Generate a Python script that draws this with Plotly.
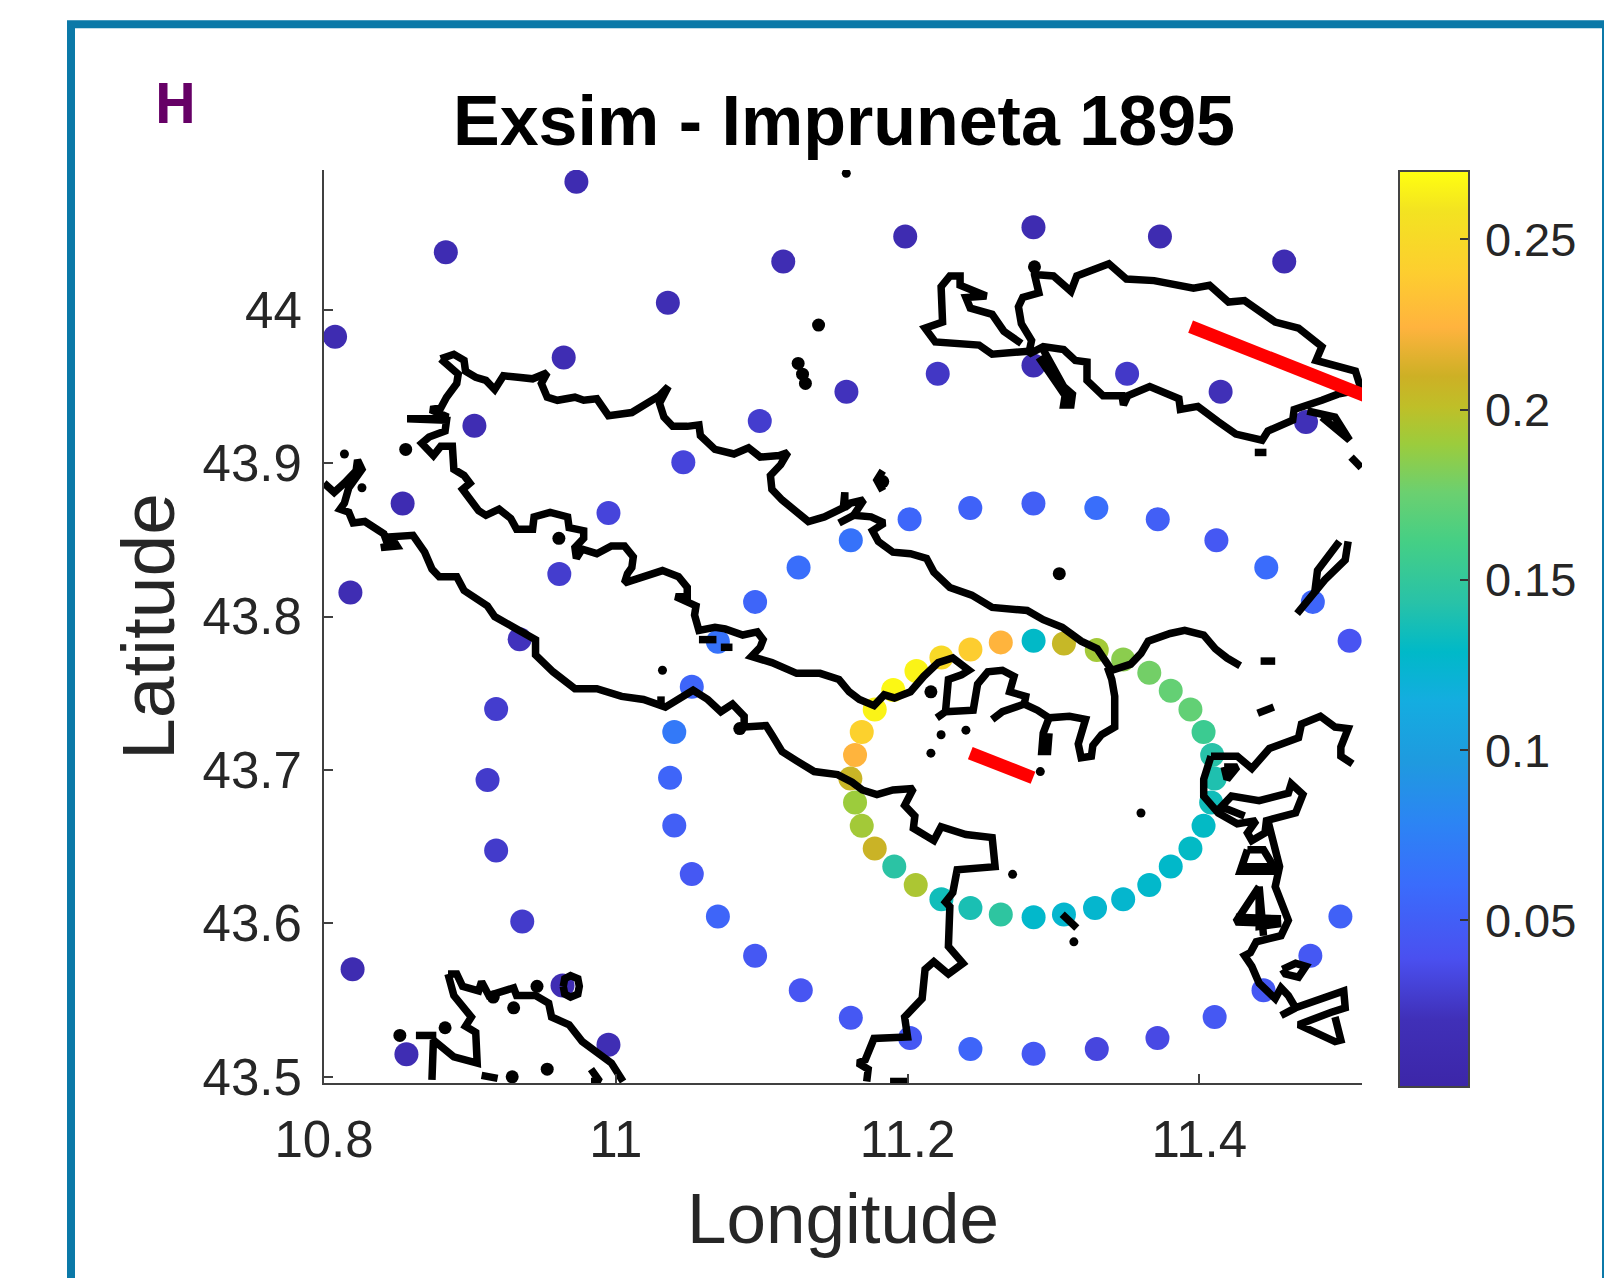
import plotly.graph_objects as go

TITLE = "Exsim - Impruneta 1895"
PANEL = "H"
X_TICKS = [10.8, 11, 11.2, 11.4]
X_LABELS = ["10.8", "11", "11.2", "11.4"]
Y_TICKS = [43.5, 43.6, 43.7, 43.8, 43.9, 44]
Y_LABELS = ["43.5", "43.6", "43.7", "43.8", "43.9", "44"]
CB_TICKS = [0.05, 0.1, 0.15, 0.2, 0.25]
CB_LABELS = ["0.05", "0.1", "0.15", "0.2", "0.25"]

# stations on the inner ring
ring_lon = [11.2864,11.2639,11.2431,11.2232,11.2061,11.1902,11.1775,11.1686,11.1640,11.1608,11.1640,11.1686,11.1775,11.1909,11.2056,11.2232,11.2431,11.2639,11.2864,11.3072,11.3285,11.3478,11.3657,11.3804,11.3939,11.4029,11.4081,11.4105,11.4088,11.4029,11.3939,11.3804,11.3657,11.3478,11.3297,11.3072]
ring_lat = [43.7842,43.7832,43.7786,43.7734,43.7645,43.7521,43.7395,43.7248,43.7098,43.6944,43.6788,43.6636,43.6488,43.6371,43.6250,43.6158,43.6100,43.6059,43.6041,43.6059,43.6100,43.6158,43.6250,43.6371,43.6488,43.6636,43.6788,43.6944,43.7098,43.7248,43.7395,43.7517,43.7634,43.7721,43.7782,43.7825]
ring_val = [0.129,0.225,0.240,0.250,0.265,0.267,0.265,0.243,0.225,0.207,0.190,0.192,0.208,0.145,0.195,0.135,0.138,0.147,0.127,0.125,0.125,0.125,0.127,0.128,0.130,0.130,0.135,0.140,0.143,0.155,0.172,0.173,0.178,0.185,0.192,0.205]

# stations on the outer rings
outer_lon = [10.973,10.8835,11.1148,11.0357,10.8076,10.9643,11.1581,10.9031,11.0987,11.0463,10.8539,10.9950,11.1611,11.1253,11.0955,10.9613,10.8181,
             11.1984,11.2863,11.3730,11.4582,11.2207,11.2863,11.3505,11.4146,11.4731,11.2014,11.2430,11.2863,11.3294,11.3715,11.4117,11.4459,11.4778,
             10.9341,10.9180,10.9121,10.9180,10.9359,10.8196,10.9635,10.8565,10.9950,11.0700,11.0521,11.0401,11.0372,11.0401,11.0521,11.0700,11.0955,11.1268,11.1611,
             11.5030,11.4967,11.4761,11.4440,11.4105,11.3713,11.3297,11.2864,11.2431,11.2017]
outer_lat = [44.0835,44.0375,44.0314,44.0045,43.9824,43.9689,43.9466,43.9244,43.9275,43.9006,43.8737,43.8676,43.8498,43.8320,43.8096,43.8277,43.8157,
             44.0477,44.0538,44.0477,44.0314,43.9583,43.9637,43.9583,43.9466,43.9268,43.8635,43.8708,43.8737,43.8708,43.8635,43.8498,43.8320,43.8096,
             43.7853,43.7398,43.6935,43.6475,43.6013,43.5701,43.5596,43.5147,43.5210,43.7836,43.7543,43.7248,43.6950,43.6638,43.6323,43.6046,43.5789,43.5564,43.5386,
             43.7842,43.6046,43.5789,43.5564,43.5390,43.5254,43.5182,43.5151,43.5182,43.5254]
outer_val = [0.012,0.013,0.014,0.016,0.012,0.014,0.022,0.014,0.028,0.032,0.013,0.032,0.065,0.062,0.055,0.028,0.015,
             0.012,0.012,0.012,0.013,0.025,0.016,0.026,0.020,0.020,0.056,0.053,0.050,0.062,0.050,0.045,0.060,0.055,
             0.022,0.028,0.027,0.027,0.027,0.012,0.014,0.015,0.016,0.065,0.055,0.070,0.055,0.050,0.045,0.055,0.045,0.043,0.045,
             0.042,0.052,0.045,0.045,0.045,0.035,0.033,0.045,0.055,0.045]

# coastline: (lon, lat) vertices per polyline
coast_north = [(10.880,43.968),(10.889,43.971),(10.896,43.967),(10.897,43.960),(10.904,43.956),(10.911,43.954),(10.917,43.948),(10.923,43.957),(10.933,43.956),(10.943,43.955),(10.953,43.959),(10.949,43.952),(10.953,43.943),(10.960,43.941),(10.972,43.943),(10.978,43.941),(10.987,43.942),(10.995,43.931),(11.011,43.933),(11.022,43.939),(11.030,43.944),(11.036,43.950),(11.030,43.939),(11.033,43.930),(11.039,43.924),(11.049,43.924),(11.057,43.925),(11.058,43.918),(11.068,43.909),(11.081,43.906),(11.091,43.910),(11.099,43.904),(11.112,43.905),(11.118,43.907),(11.113,43.899),(11.106,43.892),(11.107,43.883),(11.114,43.876),(11.123,43.869),(11.132,43.862),(11.143,43.865),(11.156,43.871),(11.157,43.881),(11.157,43.871),(11.161,43.874),(11.170,43.876),(11.163,43.866),(11.175,43.865),(11.184,43.861),(11.176,43.856),(11.180,43.849),(11.190,43.842),(11.202,43.841),(11.213,43.838),(11.218,43.829),(11.229,43.819),(11.244,43.814),(11.258,43.806),(11.282,43.804),(11.293,43.798),(11.306,43.793),(11.319,43.784),(11.330,43.779),(11.337,43.769),(11.340,43.765),(11.353,43.769),(11.360,43.776),(11.365,43.784),(11.380,43.789),(11.390,43.791),(11.403,43.788),(11.411,43.779),(11.419,43.773),(11.428,43.768)]
coast_bay = [(11.337,43.767),(11.340,43.759),(11.342,43.748),(11.342,43.728),(11.333,43.723),(11.327,43.716),(11.326,43.709),(11.319,43.708),(11.317,43.717),(11.322,43.733),(11.311,43.735),(11.297,43.734),(11.289,43.739),(11.280,43.743),(11.265,43.738),(11.258,43.733)]
coast_bay_spur = [(11.297,43.734),(11.293,43.724),(11.292,43.712),(11.296,43.712),(11.297,43.724)]
coast_middle = [(11.280,43.743),(11.281,43.748),(11.270,43.751),(11.273,43.761),(11.265,43.765),(11.255,43.764),(11.248,43.756),(11.245,43.739),(11.226,43.738),(11.220,43.734),(11.226,43.738),(11.228,43.759),(11.237,43.762),(11.242,43.765),(11.231,43.773),(11.221,43.770),(11.211,43.761),(11.202,43.751),(11.191,43.747),(11.184,43.749),(11.177,43.742),(11.167,43.746),(11.160,43.751),(11.153,43.759),(11.140,43.763),(11.124,43.763),(11.107,43.770),(11.093,43.774),(11.099,43.780),(11.101,43.785),(11.097,43.790),(11.087,43.788),(11.075,43.792),(11.068,43.793),(11.057,43.791),(11.054,43.801),(11.055,43.807),(11.041,43.813),(11.049,43.813),(11.049,43.819),(11.043,43.826),(11.032,43.830),(11.022,43.827),(11.006,43.822),(11.008,43.828),(11.011,43.832),(11.012,43.839),(11.006,43.846),(10.997,43.846),(10.987,43.841),(10.977,43.844),(10.973,43.838),(10.972,43.845),(10.978,43.851),(10.978,43.856),(10.968,43.858),(10.967,43.865),(10.955,43.868),(10.944,43.865),(10.943,43.857),(10.932,43.857),(10.928,43.864),(10.920,43.870),(10.911,43.866),(10.906,43.869),(10.900,43.876),(10.895,43.883),(10.900,43.887),(10.896,43.892),(10.889,43.896),(10.888,43.911),(10.880,43.911),(10.875,43.905),(10.867,43.913),(10.872,43.917),(10.883,43.921),(10.884,43.928),(10.857,43.929),(10.885,43.930),(10.873,43.935),(10.880,43.936),(10.884,43.943),(10.891,43.952),(10.892,43.958),(10.880,43.968)]
coast_south = [(10.800,43.887),(10.807,43.881),(10.814,43.887),(10.822,43.895),(10.823,43.902),(10.826,43.896),(10.817,43.884),(10.814,43.874),(10.811,43.870),(10.817,43.868),(10.820,43.861),(10.828,43.862),(10.841,43.854),(10.844,43.846),(10.839,43.845),(10.850,43.846),(10.846,43.852),(10.861,43.853),(10.869,43.842),(10.874,43.831),(10.879,43.826),(10.891,43.826),(10.896,43.817),(10.912,43.807),(10.917,43.800),(10.931,43.793),(10.945,43.785),(10.945,43.775),(10.957,43.764),(10.972,43.753),(10.987,43.753),(11.004,43.748),(11.019,43.746),(11.034,43.741),(11.043,43.746),(11.053,43.752),(11.063,43.746),(11.072,43.738),(11.080,43.743),(11.088,43.735),(11.088,43.728),(11.103,43.729),(11.107,43.723),(11.114,43.712),(11.124,43.706),(11.136,43.699),(11.152,43.697),(11.162,43.692),(11.169,43.687),(11.179,43.684),(11.190,43.687),(11.204,43.688),(11.198,43.677),(11.205,43.670),(11.204,43.662),(11.218,43.654),(11.223,43.663),(11.240,43.658),(11.258,43.656),(11.260,43.637),(11.234,43.635),(11.231,43.620),(11.226,43.614),(11.229,43.611),(11.228,43.585),(11.238,43.574),(11.228,43.567),(11.218,43.575),(11.212,43.570),(11.210,43.551),(11.198,43.539),(11.200,43.526),(11.177,43.525),(11.171,43.511),(11.166,43.509),(11.173,43.505),(11.172,43.497)]
coast_sw_a = [(10.885,43.567),(10.891,43.567),(10.895,43.559),(10.906,43.556),(10.908,43.562),(10.913,43.553),(10.930,43.558),(10.932,43.553),(10.945,43.553),(10.954,43.548),(10.956,43.539),(10.968,43.534),(10.977,43.523),(10.997,43.509),(11.005,43.497)]
coast_sw_b = [(10.885,43.567),(10.889,43.553),(10.901,43.539),(10.897,43.533),(10.904,43.529),(10.905,43.509),(10.889,43.513),(10.875,43.524),(10.874,43.498)]
coast_sw_ring = [(10.964,43.559),(10.965,43.564),(10.969,43.566),(10.974,43.564),(10.975,43.559),(10.974,43.554),(10.969,43.552),(10.965,43.554),(10.964,43.559)]
coast_lake = [(11.287,44.023),(11.300,44.022),(11.312,44.012),(11.316,44.022),(11.338,44.030),(11.350,44.020),(11.369,44.019),(11.396,44.014),(11.407,44.016),(11.420,44.005),(11.431,44.006),(11.452,43.992),(11.468,43.988),(11.484,43.976),(11.480,43.967),(11.507,43.960),(11.511,43.948),(11.495,43.945),(11.484,43.941),(11.465,43.935),(11.464,43.928),(11.447,43.921),(11.443,43.915),(11.425,43.919),(11.413,43.927),(11.399,43.937),(11.387,43.935),(11.386,43.942),(11.366,43.950),(11.351,43.944),(11.348,43.938),(11.347,43.944),(11.334,43.944),(11.323,43.954),(11.323,43.966),(11.315,43.967),(11.307,43.974),(11.293,43.976),(11.283,43.971),(11.285,43.980),(11.278,43.991),(11.276,44.002),(11.279,44.008),(11.290,44.011),(11.287,44.023),(11.287,44.028)]
coast_lake_west = [(11.283,43.973),(11.258,43.971),(11.249,43.977),(11.219,43.979),(11.212,43.988),(11.224,43.992),(11.223,44.015),(11.229,44.022),(11.236,44.022),(11.236,44.016),(11.254,44.009),(11.240,44.008),(11.243,44.001),(11.258,43.997),(11.266,43.986),(11.278,43.978)]
coast_lake_south = [(11.293,43.974),(11.302,43.957),(11.307,43.950),(11.313,43.945),(11.312,43.938),(11.307,43.938),(11.308,43.944),(11.303,43.951),(11.290,43.969)]
coast_ne_a = [(11.474,43.934),(11.493,43.930),(11.503,43.915),(11.498,43.919),(11.484,43.930)]
coast_ne_b = [(11.504,43.904),(11.511,43.897)]
coast_ne_c = [(11.438,43.907),(11.446,43.907)]
coast_ne_d = [(11.183,43.895),(11.179,43.889),(11.183,43.882)]
coast_diag_a = [(11.502,43.849),(11.500,43.837),(11.486,43.824),(11.467,43.802)]
coast_diag_b = [(11.496,43.849),(11.481,43.830),(11.479,43.815)]
coast_e_a = [(11.408,43.709),(11.426,43.709),(11.436,43.701),(11.448,43.714),(11.468,43.721),(11.470,43.730),(11.483,43.735),(11.493,43.728),(11.502,43.727),(11.497,43.715),(11.497,43.709),(11.505,43.704)]
coast_e_b = [(11.408,43.709),(11.403,43.694),(11.403,43.683),(11.413,43.672),(11.426,43.665),(11.439,43.667),(11.433,43.659),(11.436,43.654),(11.445,43.659),(11.446,43.667),(11.466,43.672),(11.471,43.684),(11.463,43.691),(11.461,43.685),(11.441,43.680),(11.422,43.683),(11.415,43.676),(11.431,43.670)]
coast_e_c = [(11.417,43.702),(11.426,43.702),(11.419,43.694),(11.417,43.702)]
coast_e_d = [(11.447,43.667),(11.452,43.650),(11.455,43.637),(11.452,43.624),(11.458,43.609),(11.461,43.602),(11.456,43.592),(11.439,43.588),(11.435,43.581),(11.431,43.579),(11.436,43.572),(11.441,43.561),(11.452,43.551),(11.456,43.558),(11.461,43.553),(11.466,43.545),(11.456,43.540),(11.466,43.545),(11.499,43.556),(11.500,43.545),(11.490,43.542),(11.468,43.534),(11.493,43.523),(11.497,43.524),(11.493,43.539)]
coast_e_e = [(11.441,43.624),(11.425,43.601),(11.456,43.600),(11.441,43.598),(11.441,43.624),(11.444,43.592)]
coast_e_f = [(11.433,43.648),(11.428,43.634),(11.453,43.634),(11.444,43.648),(11.433,43.648)]
coast_e_g = [(11.457,43.570),(11.466,43.574),(11.473,43.572),(11.468,43.565),(11.459,43.567),(11.457,43.570)]
coast_e_h = [(11.428,43.637),(11.453,43.637)]
coast_e_i = [(11.425,43.604),(11.456,43.603)]
coast_bits = [
    [(10.863,43.527),(10.877,43.527)], [(10.908,43.501),(10.919,43.499)],
    [(10.983,43.505),(10.989,43.497),(10.983,43.497)], [(11.031,43.748),(11.031,43.743)],
    [(11.057,43.785),(11.069,43.785)], [(11.072,43.780),(11.080,43.780)],
    [(11.442,43.771),(11.452,43.771)], [(11.440,43.737),(11.451,43.741)],
    [(11.306,43.606),(11.316,43.597)], [(11.188,43.497),(11.200,43.497)],
    [(11.153,43.861),(11.165,43.867)],
]
coast_all = [coast_north, coast_bay, coast_bay_spur, coast_middle, coast_south, coast_sw_a, coast_sw_b, coast_sw_ring,
             coast_lake, coast_lake_west, coast_lake_south, coast_ne_a, coast_ne_b, coast_ne_c, coast_ne_d, coast_diag_a,
             coast_diag_b, coast_e_a, coast_e_b, coast_e_c, coast_e_d, coast_e_e, coast_e_f, coast_e_g, coast_e_h, coast_e_i] + coast_bits

# islands
islet_lon = [10.852,10.883,10.930,10.946,10.916,10.953,10.929,11.085,11.304,11.216,10.856,10.961,11.139,11.287,11.125,11.128,11.130,11.183,11.310]
islet_lat = [43.527,43.532,43.545,43.559,43.552,43.505,43.500,43.727,43.828,43.751,43.909,43.851,43.990,44.028,43.965,43.958,43.952,43.888,43.941]
islet_small_lon = [11.032,11.360,11.272,11.223,11.240,11.216,11.291,11.314,10.814,10.826,11.158]
islet_small_lat = [43.765,43.672,43.632,43.723,43.726,43.711,43.699,43.588,43.906,43.884,44.089]

# fault traces
fault_big_lon = [11.394, 11.5135]
fault_big_lat = [43.989, 43.944]
fault_small_lon = [11.243, 11.286]
fault_small_lat = [43.711, 43.695]

CMIN, CMAX = 0.001, 0.27
colorscale = [[0,"#3c26a8"],[0.0736,"#4030b8"],[0.1405,"#4a50f0"],[0.2207,"#3a6cfc"],[0.2876,"#2c84f4"],[0.3545,"#1f9adf"],
              [0.4214,"#14ade0"],[0.4749,"#00b9c8"],[0.5284,"#28c2a8"],[0.5953,"#45cf85"],[0.6488,"#6bd070"],[0.7023,"#9ccc3c"],
              [0.7425,"#bfbf28"],[0.7759,"#cdb025"],[0.8294,"#ffb33e"],[0.8896,"#fdce2f"],[0.9565,"#f3e321"],[1,"#ffff10"]]

W, H = 1604, 1278
L, R, T, B = 324, 1362, 169.5, 1083.5
FONT = "Liberation Sans"
cb_text = ["<span style='font-size:18px'>\u00a0</span>" + s for s in CB_LABELS]

fig = go.Figure()
fig.add_trace(go.Scatter(
    x=outer_lon + ring_lon, y=outer_lat + ring_lat, mode="markers", showlegend=False,
    marker=dict(size=24, color=outer_val + ring_val, cmin=CMIN, cmax=CMAX, colorscale=colorscale, line=dict(width=0),
                colorbar=dict(xref="container", yref="paper", x=1399.3/W, xanchor="left", y=(B-629.2)/(B-T), yanchor="middle",
                              lenmode="pixels", len=915.6, thicknessmode="pixels", thickness=70, xpad=0, ypad=0,
                              outlinecolor="#444444", outlinewidth=2, ticks="inside", ticklen=10, tickcolor="#333333", tickwidth=2,
                              tickvals=CB_TICKS, ticktext=cb_text, tickfont=dict(family=FONT, size=47, color="#262626"), ticklabelposition="outside"))))

cx, cy = [], []
for seg in coast_all:
    cx += [p[0] for p in seg] + [None]
    cy += [p[1] for p in seg] + [None]
fig.add_trace(go.Scatter(x=cx, y=cy, mode="lines", showlegend=False, line=dict(color="black", width=7.5)))
fig.add_trace(go.Scatter(x=islet_lon, y=islet_lat, mode="markers", showlegend=False, marker=dict(color="black", size=13, line=dict(width=0))))
fig.add_trace(go.Scatter(x=islet_small_lon, y=islet_small_lat, mode="markers", showlegend=False, marker=dict(color="black", size=9, line=dict(width=0))))
for xs, ys in ((fault_big_lon, fault_big_lat), (fault_small_lon, fault_small_lat)):
    fig.add_trace(go.Scatter(x=xs, y=ys, mode="lines", showlegend=False, cliponaxis=False, line=dict(color="#ff0000", width=13)))

fig.update_layout(
    width=W, height=H, autosize=False, paper_bgcolor="white", plot_bgcolor="white",
    margin=dict(l=L, r=W-R, t=T, b=H-B, pad=0), showlegend=False,
    font=dict(family=FONT, color="#262626"),
    title=dict(text="<b>%s</b>" % TITLE, x=844/W, xanchor="center", xref="container", y=1-120/H, yanchor="middle", yref="container",
               font=dict(family=FONT, size=70, color="black")),
    xaxis=dict(range=[10.8, 11.5115], tickmode="array", tickvals=X_TICKS, ticktext=X_LABELS, ticks="inside", ticklen=9, tickwidth=2,
               tickcolor="#404040", showline=True, linecolor="#404040", linewidth=2, showgrid=False, zeroline=False,
               tickfont=dict(family=FONT, size=51, color="#262626"), ticklabelstandoff=11,
               title=dict(text="Longitude", font=dict(family=FONT, size=71, color="#262626"), standoff=26)),
    yaxis=dict(range=[43.496, 44.0911], tickmode="array", tickvals=Y_TICKS, ticktext=Y_LABELS, ticks="inside", ticklen=9, tickwidth=2,
               tickcolor="#404040", showline=True, linecolor="#404040", linewidth=2, showgrid=False, zeroline=False,
               tickfont=dict(family=FONT, size=51, color="#262626"), ticklabelstandoff=10,
               title=dict(text="Latitude", font=dict(family=FONT, size=75, color="#262626"), standoff=3)),
    shapes=[dict(type="rect", xref="paper", yref="paper", layer="below",
                 x0=(71-L)/(R-L), x1=(1606-L)/(R-L), y0=(B-1290)/(B-T), y1=(B-23.7)/(B-T),
                 line=dict(color="#0b79a8", width=8), fillcolor="rgba(0,0,0,0)")],
    annotations=[dict(text="<b>%s</b>" % PANEL, xref="paper", yref="paper", x=(175-L)/(R-L), y=(B-100)/(B-T), xanchor="center", yanchor="middle",
                      showarrow=False, font=dict(family="Noto Sans", size=56, color="#660066"))],
)
fig.write_html("out.html", config=dict(displayModeBar=False), post_script="document.body.style.margin='0';document.body.style.overflow='hidden';")
